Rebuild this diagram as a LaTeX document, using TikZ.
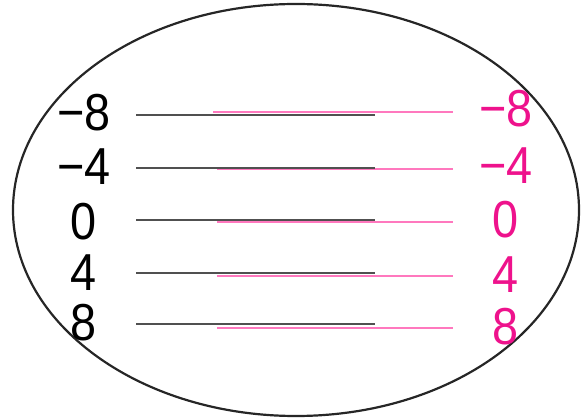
\documentclass[tikz,border=0pt]{standalone}
\usepackage{fontspec}
\setmainfont{Liberation Sans}
\usepackage{xcolor}
\definecolor{scalepink}{RGB}{238,18,140}
\definecolor{linepink}{RGB}{255,120,190}
\definecolor{linegray}{RGB}{80,80,80}

\begin{document}
\begin{tikzpicture}[x=1pt, y=-1pt, font=\fontsize{52}{52}\selectfont,
    scalelabel/.style={inner sep=0pt, xscale=0.9, transform shape}]
    \useasboundingbox (0,0) rectangle (581,419);
    % outer ellipse
    \draw[line width=2.2pt, black!85] (296,210) ellipse [x radius=283, y radius=206];
    % rows: value / black label y / black line y / pink line y / pink label y / pink start x
    \foreach \v/\yb/\yl/\yp/\ypl/\xs [count=\i] in
        {{−8}/113/115/112/109/213, {−4}/167/168/169/166/217, 0/222/220/222/220/217,
         4/273/273/276/275/217, 8/323/324/328/327/217} {
        \node[scalelabel] (left\i) at (84,\yb) {\v};
        \node[scalelabel, text=scalepink] (right\i) at (506,\ypl) {\v};
        \coordinate (bs\i) at (136,\yl);
        \coordinate (be\i) at (375,\yl);
        \coordinate (ps\i) at (\xs,\yp);
        \coordinate (pe\i) at (453,\yp);
        \draw[linepink, line width=1.1pt] (ps\i) -- (pe\i);
        \draw[linegray, line width=1.5pt] (bs\i) -- (be\i);
    }
\end{tikzpicture}
\end{document}
